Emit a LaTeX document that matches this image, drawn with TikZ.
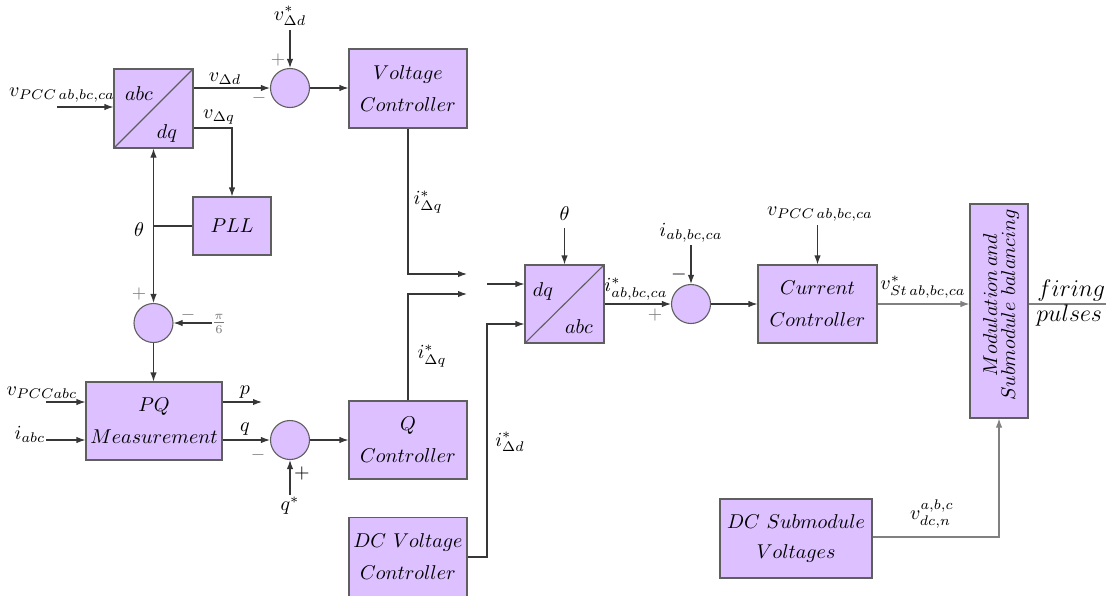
\documentclass[tikz,border=0pt]{standalone}
\usetikzlibrary{arrows.meta}
\definecolor{boxfill}{RGB}{221,192,255}
\definecolor{boxline}{RGB}{95,95,95}
\definecolor{wire}{RGB}{55,55,55}
\definecolor{signgray}{RGB}{120,120,120}
\begin{document}
\begin{tikzpicture}[x=0.5pt,y=-0.5pt,
  font=\fontsize{10.4}{16}\selectfont,
  blk/.style={draw=boxline,fill=boxfill,line width=0.55pt,align=center,inner sep=0pt},
  sumc/.style={circle,draw=boxline,fill=boxfill,line width=0.55pt,minimum size=19.5pt,inner sep=0pt},
  wr/.style={draw=wire,line width=0.55pt},
  arr/.style={wr,-{Latex[length=4.5pt,width=3.2pt]}},
  lbl/.style={inner sep=0pt},
  sgn/.style={inner sep=0pt,text=signgray,font=\fontsize{9}{10}\selectfont}]
\path[use as bounding box] (0,0) rectangle (1106,595);

% blocks
\node[blk,minimum width=39.5pt,minimum height=39.5pt] (abcdq) at (153.5,108.5) {};
\draw[boxline,line width=0.55pt] (abcdq.south west) -- (abcdq.north east);
\node[lbl] (abcT) at (139,94) {$abc$};
\node[lbl] (dqT) at (167,133) {$dq$};
\node[blk,minimum width=59pt,minimum height=39.5pt] (VC) at (408,88.5) {$Voltage$\\$Controller$};
\node[blk,minimum width=39pt,minimum height=29pt] (PLL) at (232,226) {$PLL$};
\node[blk,minimum width=68pt,minimum height=39pt] (PQ) at (154,421) {$PQ$\\$Measurement$};
\node[blk,minimum width=59pt,minimum height=39pt] (QC) at (408,440) {$Q$\\$Controller$};
\node[blk,minimum width=59pt,minimum height=39.5pt] (DCVC) at (408,557) {$DC\ Voltage$\\$Controller$};
\node[blk,minimum width=39.5pt,minimum height=39pt] (dqabc) at (564.5,304) {};
\draw[boxline,line width=0.55pt] (dqabc.south west) -- (dqabc.north east);
\node[lbl] (dqT2) at (543,291) {$dq$};
\node[lbl] (abcT2) at (579,327) {$abc$};
\node[blk,minimum width=59.5pt,minimum height=39pt] (CC) at (817.5,304) {$Current$\\$Controller$};
\node[blk,minimum width=29pt,minimum height=107pt] (MOD) at (999,311) {};
\node[lbl,rotate=90,align=center,font=\fontsize{10.4}{9}\selectfont] (MODT) at (1001,305) {$Modulation\,and$\\$Submodule\ balancing$};
\node[blk,minimum width=76pt,minimum height=39.5pt,font=\fontsize{10.4}{15}\selectfont] (DCSM) at (796,538.5) {$DC\ Submodule$\\$Voltages$};

% summing junctions
\node[sumc] (s1) at (290,88) {};
\node[sumc] (s2) at (153.5,323) {};
\node[sumc] (s3) at (290,440) {};
\node[sumc] (s4) at (691,304) {};

% coordinates
\coordinate (in1) at (57,107);
\coordinate (vdref) at (290,30);
\coordinate (vq) at (232,128);
\coordinate (th) at (153.5,226);
\coordinate (pi6) at (212,323);
\coordinate (in2) at (46,402);
\coordinate (in3) at (46,440);
\coordinate (pout) at (262,402);
\coordinate (qref) at (290,495);
\coordinate (c1) at (408,274);
\coordinate (a1) at (467,274);
\coordinate (c2) at (408,294);
\coordinate (a2) at (467,294);
\coordinate (b1) at (487,284);
\coordinate (c3) at (487,557);
\coordinate (c4) at (487,324);
\coordinate (th2) at (564.5,228);
\coordinate (iab) at (691,245);
\coordinate (vpc2) at (817.5,225);
\coordinate (fire) at (1106,304);
\coordinate (c5) at (999,537);

% connectors
\draw[arr] (in1) -- (in1 -| abcdq.west);
\draw[arr] (abcdq.east |- s1) -- (s1);
\draw[arr] (vdref) -- (s1);
\draw[arr] (s1) -- (VC.west |- s1);
\draw[arr] (abcdq.east |- vq) -- (vq) -- (PLL.north);
\draw[wr] (PLL.west) -- (th);
\draw[arr] (th) -- (abcdq.south);
\draw[arr] (th) -- (s2);
\draw[arr] (pi6) -- (s2);
\draw[arr] (s2) -- (PQ.north -| s2);
\draw[arr] (in2) -- (in2 -| PQ.west);
\draw[arr] (in3) -- (in3 -| PQ.west);
\draw[arr] (PQ.east |- pout) -- (pout);
\draw[arr] (PQ.east |- s3) -- (s3);
\draw[arr] (qref) -- (s3);
\draw[arr] (s3) -- (QC.west |- s3);
\draw[arr] (VC.south) -- (c1) -- (a1);
\draw[arr] (QC.north) -- (c2) -- (a2);
\draw[arr] (b1) -- (b1 -| dqabc.west);
\draw[arr] (DCVC.east |- c3) -- (c3) -- (c4) -- (c4 -| dqabc.west);
\draw[arr] (th2) -- (dqabc.north);
\draw[arr] (dqabc.east |- s4) -- (s4);
\draw[arr] (iab) -- (s4);
\draw[arr] (s4) -- (CC.west |- s4);
\draw[arr] (vpc2) -- (CC.north);
\draw[arr,draw=gray] (CC.east) -- (MOD.west |- CC.east);
\draw[wr,draw=gray] (MOD.east |- fire) -- (fire);
\draw[arr,draw=gray] (DCSM.east |- c5) -- (c5) -- (MOD.south);

% labels
\node[lbl] (Lvpcc1) at (62,95) {$v_{PCC\,ab,bc,ca}$};
\node[lbl] (Lvdd) at (225,79) {$v_{\Delta d}$};
\node[lbl] (Lvdq) at (219,117) {$v_{\Delta q}$};
\node[lbl] (Lvdref) at (290,16) {$v^{*}_{\Delta d}$};
\node[sgn] (m1) at (259,98) {$-$};
\node[sgn] (p1) at (278,60) {$+$};
\node[lbl] (Lth) at (139,230) {$\theta$};
\node[sgn] (p2) at (139,294) {$+$};
\node[sgn] (m2) at (188,315) {$-$};
\node[sgn] (Lpi6) at (219,324) {$\frac{\pi}{6}$};
\node[lbl] (Lvpcc2) at (42,393) {$v_{PCCabc}$};
\node[lbl] (Liabc) at (30,434) {$i_{abc}$};
\node[lbl] (Lp) at (245,392) {$p$};
\node[lbl] (Lq) at (245,429) {$q$};
\node[sgn] (m3) at (258,455) {$-$};
\node[lbl] (p3) at (302,473) {$+$};
\node[lbl] (Lqref) at (290,506) {$q^{*}$};
\node[lbl] (Lidq1) at (428,202) {$i^{*}_{\Delta q}$};
\node[lbl] (Lidq2) at (432,356) {$i^{*}_{\Delta q}$};
\node[lbl] (Lidd) at (510,442) {$i^{*}_{\Delta d}$};
\node[lbl] (Lth2) at (564.5,214) {$\theta$};
\node[lbl] (Liref) at (636,289) {$i^{*}_{ab,bc,ca}$};
\node[sgn] (p4) at (655,315) {$+$};
\node[lbl] (m4) at (679,274) {$-$};
\node[lbl] (Liab) at (691,233) {$i_{ab,bc,ca}$};
\node[lbl] (Lvpcc3) at (820,214) {$v_{PCC\,ab,bc,ca}$};
\node[lbl] (Lvst) at (923,287) {$v^{*}_{St\,ab,bc,ca}$};
\node[lbl,anchor=base west,font=\fontsize{12.5}{14}\selectfont] (Lfire) at (1037,296) {$firing$};
\node[lbl,anchor=base west,font=\fontsize{12.5}{14}\selectfont] (Lpulse) at (1036,321) {$pulses$};
\node[lbl] (Lvdc) at (932,514) {$v^{a,b,c}_{dc,n}$};
\end{tikzpicture}
\end{document}
